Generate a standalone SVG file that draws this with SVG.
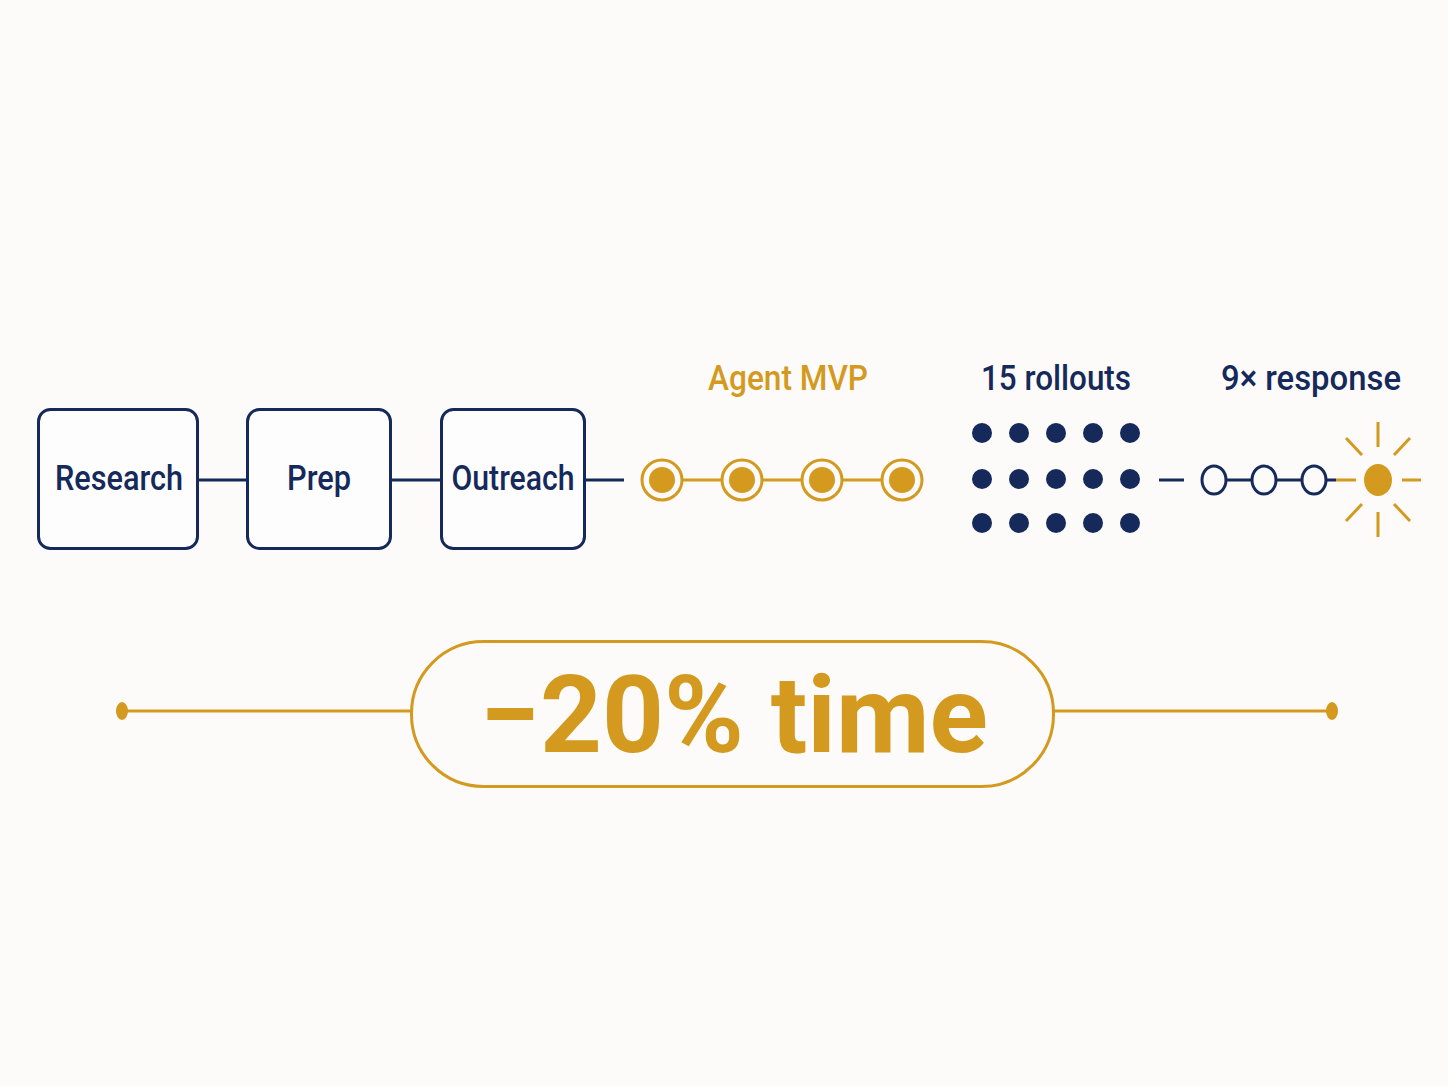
<svg xmlns="http://www.w3.org/2000/svg" width="1448" height="1086" viewBox="0 0 1448 1086">
<style>
.navy{stroke:#15295b;fill:none;stroke-width:3}
.gold{stroke:#d39a1f;fill:none;stroke-width:3}
.box{fill:#fdfdfd;stroke:#15295b;stroke-width:3}
.lbl{font-family:Roboto,"Liberation Sans",sans-serif;font-weight:500;font-size:35px;text-anchor:middle}
.tn{fill:#15295b}
.tg{fill:#d39a1f}
.dot{fill:#15295b}
</style>
<rect width="1448" height="1086" fill="#fcfbfa"/>
<g id="connectors">
<line class="navy" x1="197" y1="480" x2="247" y2="480"/>
<line class="navy" x1="390" y1="480" x2="441" y2="480"/>
<line class="navy" x1="584" y1="480" x2="624" y2="480"/>
<line class="gold" x1="682" y1="480" x2="722" y2="480"/>
<line class="gold" x1="762" y1="480" x2="802" y2="480"/>
<line class="gold" x1="842" y1="480" x2="882" y2="480"/>
<line class="navy" x1="1159" y1="480" x2="1184" y2="480"/>
<line class="navy" x1="1226" y1="480" x2="1252" y2="480"/>
<line class="navy" x1="1276" y1="480" x2="1302" y2="480"/>
<line class="navy" x1="1326" y1="480" x2="1336" y2="480"/>
<line class="gold" x1="1336" y1="480" x2="1356" y2="480"/>
<line class="gold" x1="122" y1="711" x2="411" y2="711"/>
<line class="gold" x1="1054" y1="711" x2="1332" y2="711"/>
</g>
<g id="research"><rect class="box" x="38.5" y="409.5" width="159" height="139" rx="12"/><text class="lbl tn" x="119" y="490" textLength="128" lengthAdjust="spacingAndGlyphs">Research</text></g>
<g id="prep"><rect class="box" x="247.5" y="409.5" width="143" height="139" rx="12"/><text class="lbl tn" x="319" y="490" textLength="64" lengthAdjust="spacingAndGlyphs">Prep</text></g>
<g id="outreach"><rect class="box" x="441.5" y="409.5" width="143" height="139" rx="12"/><text class="lbl tn" x="513" y="490" textLength="123" lengthAdjust="spacingAndGlyphs">Outreach</text></g>
<g id="agent-mvp">
<text class="lbl tg" x="788" y="390" textLength="160" lengthAdjust="spacingAndGlyphs">Agent MVP</text>
<circle class="gold" cx="662" cy="480" r="20" fill="#fdfdfd"/><circle cx="662" cy="480" r="13" fill="#d39a1f"/>
<circle class="gold" cx="742" cy="480" r="20" fill="#fdfdfd"/><circle cx="742" cy="480" r="13" fill="#d39a1f"/>
<circle class="gold" cx="822" cy="480" r="20" fill="#fdfdfd"/><circle cx="822" cy="480" r="13" fill="#d39a1f"/>
<circle class="gold" cx="902" cy="480" r="20" fill="#fdfdfd"/><circle cx="902" cy="480" r="13" fill="#d39a1f"/>
</g>
<g id="rollouts">
<text class="lbl tn" x="1056" y="390" textLength="150" lengthAdjust="spacingAndGlyphs">15 rollouts</text>
<circle class="dot" cx="982" cy="433" r="10"/><circle class="dot" cx="1019" cy="433" r="10"/><circle class="dot" cx="1056" cy="433" r="10"/><circle class="dot" cx="1093" cy="433" r="10"/><circle class="dot" cx="1130" cy="433" r="10"/>
<circle class="dot" cx="982" cy="479" r="10"/><circle class="dot" cx="1019" cy="479" r="10"/><circle class="dot" cx="1056" cy="479" r="10"/><circle class="dot" cx="1093" cy="479" r="10"/><circle class="dot" cx="1130" cy="479" r="10"/>
<circle class="dot" cx="982" cy="523" r="10"/><circle class="dot" cx="1019" cy="523" r="10"/><circle class="dot" cx="1056" cy="523" r="10"/><circle class="dot" cx="1093" cy="523" r="10"/><circle class="dot" cx="1130" cy="523" r="10"/>
</g>
<g id="response">
<text class="lbl tn" x="1311" y="390" textLength="180" lengthAdjust="spacingAndGlyphs">9× response</text>
<ellipse class="navy" cx="1214" cy="480" rx="12" ry="14" fill="#fdfdfd"/>
<ellipse class="navy" cx="1264" cy="480" rx="12" ry="14" fill="#fdfdfd"/>
<ellipse class="navy" cx="1314" cy="480" rx="12" ry="14" fill="#fdfdfd"/>
<ellipse cx="1378" cy="480" rx="14" ry="16" fill="#d39a1f"/>
<g class="gold">
<line x1="1378" y1="422" x2="1378" y2="447"/>
<line x1="1378" y1="512" x2="1378" y2="537"/>
<line x1="1402" y1="480" x2="1421" y2="480"/>
<line x1="1346" y1="438" x2="1362" y2="455"/>
<line x1="1410" y1="438" x2="1394" y2="455"/>
<line x1="1346" y1="521" x2="1362" y2="504"/>
<line x1="1410" y1="521" x2="1394" y2="504"/>
</g>
</g>
<g id="time">
<ellipse cx="122" cy="711" rx="6" ry="9" fill="#d39a1f"/>
<ellipse cx="1332" cy="711" rx="6" ry="9" fill="#d39a1f"/>
<rect class="gold" x="411.5" y="641.5" width="642" height="145" rx="72" fill="#fdfdfd"/>
<text x="734" y="752" font-family="Roboto,'Liberation Sans',sans-serif" font-weight="700" font-size="108" text-anchor="middle" fill="#d39a1f" textLength="508" lengthAdjust="spacingAndGlyphs">−20% time</text>
</g>
</svg>
